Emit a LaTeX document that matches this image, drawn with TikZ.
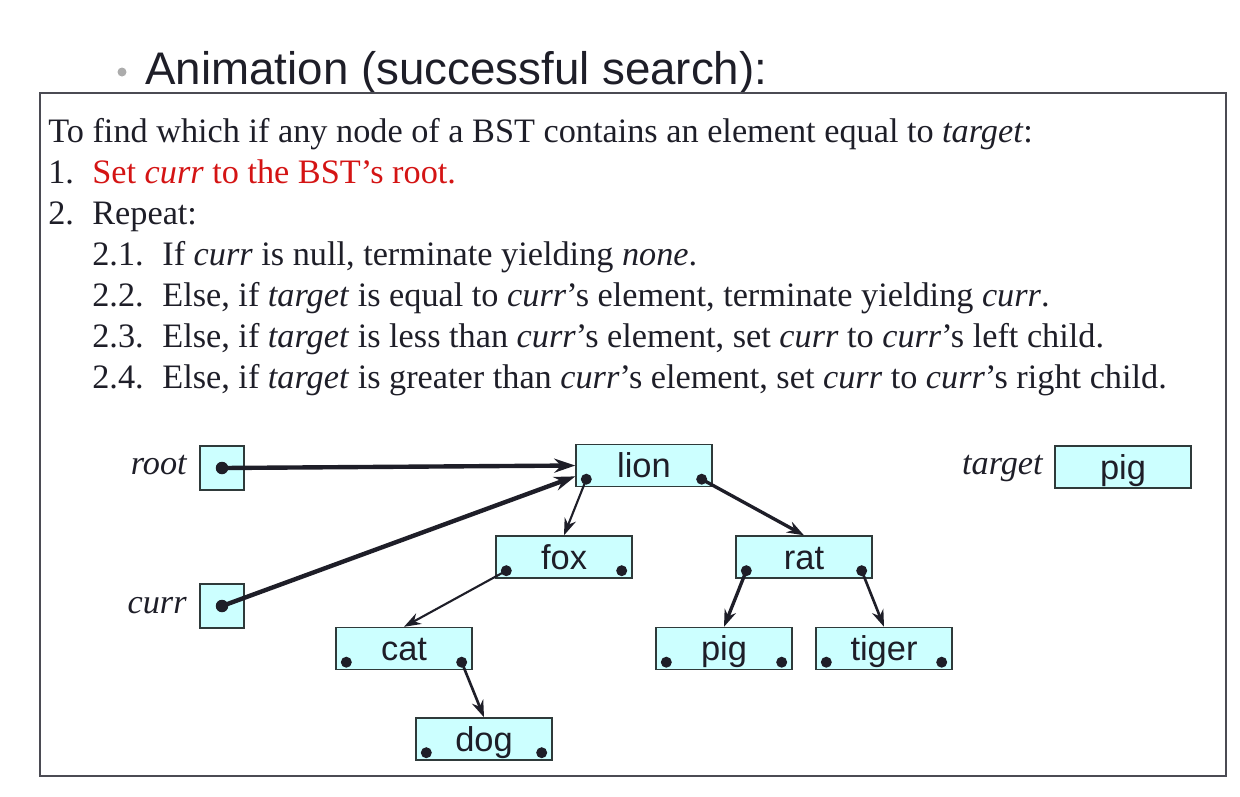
\documentclass[tikz,border=0pt]{standalone}
\usepackage{fontspec}
\setmainfont{Liberation Serif}
\newfontfamily\arial{Liberation Sans}
\usetikzlibrary{arrows.meta,calc}

\definecolor{boxfill}{HTML}{CCFFFF}
\definecolor{boxline}{HTML}{2F3A3A}
\definecolor{ink}{HTML}{1E1E28}
\definecolor{stepred}{HTML}{D41414}

\begin{document}
\begin{tikzpicture}[x=0.02cm, y=-0.02cm,
  treebox/.style={draw=boxline, line width=0.8pt, fill=boxfill, minimum width=2.72cm, minimum height=0.84cm, inner sep=0pt, font=\arial\fontsize{19.6}{19.6}\selectfont, text=ink, text height=14pt, text depth=0pt},
  ptrbox/.style={draw=boxline, line width=0.8pt, fill=boxfill, minimum size=0.88cm, inner sep=0pt},
  dot/.style={circle, fill=ink, inner sep=0pt, minimum size=0.22cm},
  line/.style={anchor=base west, font=\fontsize{19.5}{23}\selectfont, text=ink, inner sep=0pt},
  varlabel/.style={anchor=base east, font=\fontsize{19.5}{23}\selectfont\itshape, text=ink, inner sep=0pt},
  ptr/.style={draw=ink, line width=2.5pt, -{Stealth[length=0.42cm,width=0.28cm]}},
  link/.style={draw=ink, line width=1.2pt, -{Stealth[length=0.34cm,width=0.24cm]}}]
\useasboundingbox (0,0) rectangle (1240,796);

% heading
\node[circle, fill=gray!65, inner sep=0pt, minimum size=0.18cm] (bullet) at (122,72) {};
\node[anchor=base west, font=\arial\fontsize{26}{26}\selectfont, text=ink, inner sep=0pt] (title) at (145,84) {Animation (successful search):};
\draw[draw=ink!80, line width=0.9pt] (40,93) rectangle (1226,776);

% algorithm
\node[line] (intro) at (48,142) {To find which if any node of a BST contains an element equal to \textit{target}:};
\node[line] (n1) at (48,183) {1.};
\node[line, text=stepred] (s1) at (92,183) {Set \textit{curr} to the BST’s root.};
\node[line] (n2) at (48,224) {2.};
\node[line] (s2) at (92,224) {Repeat:};
\node[line] (n21) at (92,265) {2.1.};
\node[line] (s21) at (162,265) {If \textit{curr} is null, terminate yielding \textit{none}.};
\node[line] (n22) at (92,306) {2.2.};
\node[line] (s22) at (162,306) {Else, if \textit{target} is equal to \textit{curr}’s element, terminate yielding \textit{curr}.};
\node[line] (n23) at (92,347) {2.3.};
\node[line] (s23) at (162,347) {Else, if \textit{target} is less than \textit{curr}’s element, set \textit{curr} to \textit{curr}’s left child.};
\node[line] (n24) at (92,388) {2.4.};
\node[line] (s24) at (162,388) {Else, if \textit{target} is greater than \textit{curr}’s element, set \textit{curr} to \textit{curr}’s right child.};

% variables
\node[varlabel] (rootlbl) at (187,474) {root};
\node[ptrbox] (root) at (222,468) {};
\node[dot, minimum size=0.25cm] (root-d) at (root.center) {};
\node[varlabel] (currlbl) at (187,613) {curr};
\node[ptrbox] (curr) at (222,606) {};
\node[dot, minimum size=0.25cm] (curr-d) at (curr.center) {};
\node[varlabel] (targetlbl) at (1043,474) {target};
\node[treebox] (target) at (1123,467) {pig};

% tree
\foreach \nm/\cx/\cy in {lion/644/465.5, fox/564/557, rat/804/557, cat/404/648.5, pig/724/648.5, tiger/884/648.5, dog/484/739} {
  \node[treebox] (\nm) at (\cx,\cy) {\nm};
  \node[dot] (\nm-l) at ([shift={(11,-8)}]\nm.south west) {};
  \node[dot] (\nm-r) at ([shift={(-11,-8)}]\nm.south east) {};
}
\coordinate (lion-in) at ($(lion.west)!0.5!(lion.south west)$);

\draw[ptr] (root-d.center) -- (lion.west);
\draw[ptr] (curr-d.center) -- (lion-in);
\draw[link] (lion-l.center) -- (fox.north);
\draw[link, line width=1.9pt] (lion-r.center) -- (rat.north);
\draw[link] (fox-l.center) -- (cat.north);
\draw[link, line width=1.9pt] (rat-l.center) -- (pig.north);
\draw[link, line width=1.5pt] (rat-r.center) -- (tiger.north);
\draw[link, line width=1.5pt] (cat-r.center) -- (dog.north);
\end{tikzpicture}
\end{document}
